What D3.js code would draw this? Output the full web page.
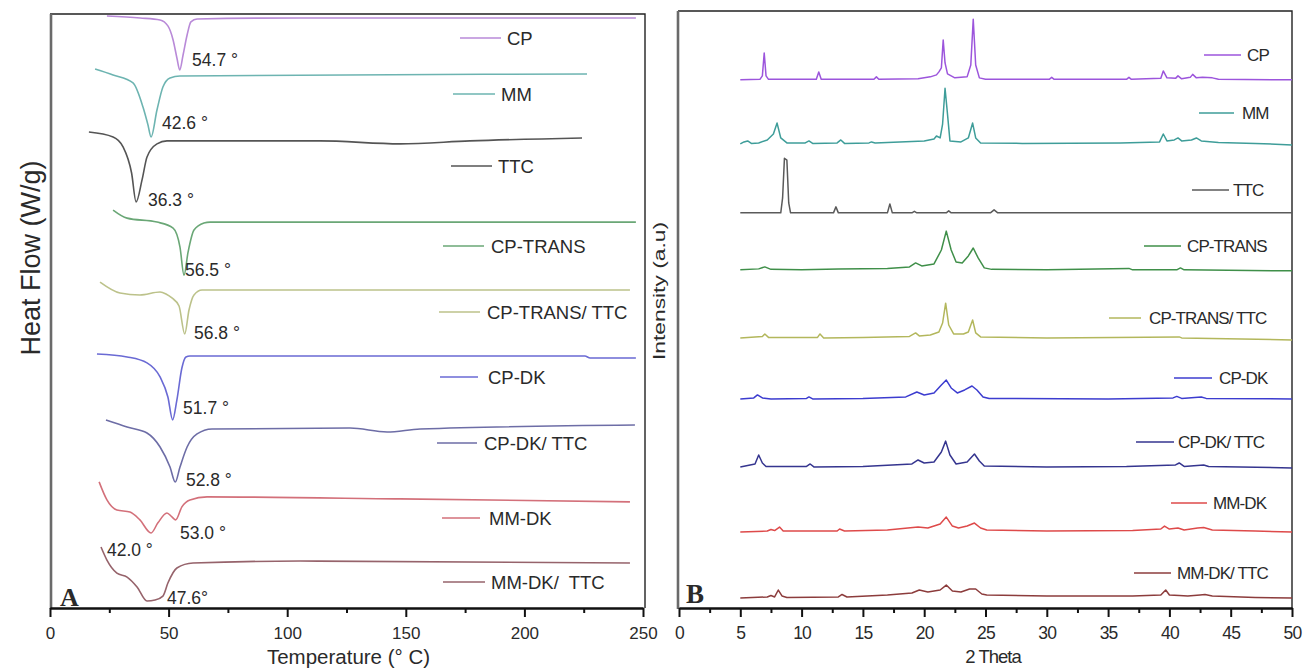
<!DOCTYPE html>
<html>
<head>
<meta charset="utf-8">
<script src="https://cdn.jsdelivr.net/npm/d3@7"></script>
<style>
  body { margin: 0; background: #fff; }
  svg { display: block; font-family: "Liberation Sans", Arial, sans-serif; }
  text { white-space: pre; fill: #2a2a2a; }
</style>
</head>
<body>
<svg id="chart" width="1304" height="669"></svg>
<script>
// ---------- data ----------
// panel A (DSC) sample names, stacked offsets (W/g) and curves [T (°C), heat flow relative to baseline]
const dscNames = ["CP", "MM", "TTC", "CP-TRANS", "CP-TRANS/ TTC", "CP-DK", "CP-DK/ TTC", "MM-DK", "MM-DK/  TTC"];
const dscOffsets = [29.80, 26.87, 23.59, 19.49, 16.06, 12.73, 9.09, 5.56, 2.32];

const dscCP = [[24,0.10],[38,0],[46.4,-0.10],[49.7,-0.40],[51.9,-1.11],[53.5,-2.02],[54.7,-2.63],[56.1,-1.87],[57.8,-0.86],[59.4,-0.20],[62,-0.05],[105,0],[247,0]];
const dscMM = [[19.0,0.35],[26.6,0.05],[35.0,-0.35],[39.2,-1.57],[41.3,-2.47],[42.6,-3.08],[45.1,-1.72],[47.6,-0.56],[50.6,-0.10],[54.8,0],[226.4,0.10]];
const dscTTC = [[16.4,0.45],[26.6,0.20],[30.8,-0.30],[34.4,-1.62],[36.3,-3.08],[38.8,-1.97],[40.9,-0.81],[45.1,-0.15],[49.3,0],[113.8,0],[147.6,-0.15],[177,0],[224.3,0.15]];
const dscCPTrans = [[26.6,0.61],[32.5,0.20],[45.1,0],[51.9,-0.30],[54.8,-1.26],[56.5,-2.68],[58.2,-1.52],[60.7,-0.40],[64.9,-0.05],[67.5,0],[247,0]];
const dscCPTransTTC = [[21.1,0.40],[29.5,-0.15],[37.9,-0.25],[46.4,-0.10],[48.9,-0.20],[51.4,-0.40],[54.4,-0.81],[56.8,-2.22],[58.6,-1.01],[60.7,-0.25],[64.1,0],[244.5,0]];
const dscCPDK = [[19.8,0.10],[32.5,-0.05],[40.9,-0.35],[46.4,-1.06],[49.7,-2.07],[51.7,-3.23],[53.5,-2.22],[55.6,-0.61],[57.3,-0.05],[59,0],[225.5,0],[227.7,-0.10],[247,-0.10]];
const dscCPDKTTC = [[23.6,0.40],[32.5,0.05],[40.9,-0.25],[46.4,-0.96],[50.6,-1.97],[52.8,-2.73],[54.8,-1.97],[57.8,-0.96],[62,-0.30],[68.3,-0.05],[126.5,0],[142.1,-0.20],[156,-0.05],[246.6,0.15]];
const dscMMDK = [[20.7,0.81],[24.0,-0.10],[28.2,-0.61],[33.7,-0.71],[37.9,-1.11],[42.6,-1.77],[45.5,-1.26],[49.3,-0.76],[51.4,-0.96],[53.0,-1.11],[55.6,-0.45],[59.0,-0.10],[66.2,0.05],[147.6,-0.05],[244.5,-0.20]];
const dscMMDKTTC = [[21.5,0.76],[24.0,0.10],[28.2,-0.56],[32.5,-0.76],[36.7,-1.26],[40.9,-1.97],[44.3,-1.92],[47.6,-1.72],[49.7,-1.06],[53.5,-0.30],[60.3,-0.05],[105.4,0.05],[244.5,-0.05]];
const dscCurves = [dscCP, dscMM, dscTTC, dscCPTrans, dscCPTransTTC, dscCPDK, dscCPDKTTC, dscMMDK, dscMMDKTTC];

// peak temperature labels: [text, T, heat flow] where the label sits
const peakLabels = [
  ["54.7 °", 59.9, 27.68], ["42.6 °", 47.2, 24.49], ["36.3 °", 41.3, 20.61],
  ["56.5 °", 56.9, 17.07], ["56.8 °", 60.7, 13.89], ["51.7 °", 56.1, 10.10],
  ["52.8 °", 57.3, 6.46], ["53.0 °", 54.8, 3.79], ["42.0 °", 24.0, 2.93], ["47.6°", 49.3, 0.51]
];
const tempTicks = [0, 50, 100, 150, 200, 250];
const tempMinor = [25, 75, 125, 175, 225];

// panel B (XRD) names, stacked offsets (a.u.) and patterns [2θ, intensity above baseline]
const xrdNames = ["CP", "MM", "TTC", "CP-TRANS", "CP-TRANS/ TTC", "CP-DK", "CP-DK/ TTC", "MM-DK", "MM-DK/ TTC"];
const xrdOffsets = [5317, 4672, 3978, 3404, 2719, 2105, 1420, 765, 101];

const xrdCP = [[5,0],[6.6,5],[6.8,40],[6.95,270],[7.1,40],[7.3,5],[11.2,5],[11.4,80],[11.6,5],[15.9,5],[16.1,30],[16.3,5],[19.5,10],[20.5,30],[21.0,50],[21.2,80],[21.4,120],[21.55,400],[21.7,170],[21.9,60],[22.5,20],[23.5,30],[23.8,150],[24.0,610],[24.2,150],[24.5,20],[25,5],[30.2,5],[30.4,25],[30.6,5],[36.5,5],[36.7,25],[36.9,5],[39.3,15],[39.5,90],[39.8,20],[40.5,15],[40.7,40],[41.0,10],[41.7,25],[41.9,55],[42.2,20],[42.7,25],[43.5,20],[44,5],[50,0]];
const xrdMM = [[5,0],[5.3,20],[5.6,30],[5.9,5],[6.5,10],[7.2,40],[7.7,100],[8.0,210],[8.3,60],[8.8,10],[10.3,10],[10.6,30],[10.9,5],[12.9,10],[13.2,40],[13.5,5],[15.5,10],[15.7,20],[16,10],[18,20],[20,30],[20.8,50],[21.0,80],[21.3,60],[21.5,200],[21.7,560],[21.9,300],[22.1,30],[23,20],[23.6,60],[23.95,210],[24.2,60],[24.6,10],[28,5],[36,10],[39.2,20],[39.5,100],[39.8,30],[40.4,40],[40.7,60],[41.0,30],[41.8,40],[42.2,60],[42.6,30],[44,15],[47,5],[50,-10]];
const xrdTTC = [[5,0],[8.3,0],[8.45,150],[8.6,550],[8.8,530],[8.95,100],[9.1,0],[12.6,0],[12.8,60],[13.0,0],[17.0,0],[17.2,90],[17.4,0],[19.0,0],[19.2,15],[19.4,0],[21.8,0],[22.0,20],[22.2,0],[25.4,0],[25.7,30],[26.0,0],[50,0]];
const xrdCPTrans = [[5,0],[6.5,10],[7.0,30],[7.5,5],[10,0],[13,10],[17,15],[18.8,30],[19.3,70],[19.8,40],[20.8,60],[21.4,200],[21.8,390],[22.2,200],[22.6,80],[23.1,70],[23.6,140],[24.0,220],[24.4,120],[24.9,20],[25.5,5],[30,0],[36.7,15],[37,0],[40.6,0],[40.9,20],[41.2,0],[50,-10]];
const xrdCPTransTTC = [[5,0],[6.8,15],[7.0,40],[7.3,5],[11.3,5],[11.5,40],[11.8,0],[15,5],[18.8,15],[19.3,50],[19.6,20],[20.5,30],[21.2,60],[21.5,150],[21.75,350],[22.0,130],[22.4,40],[23.2,40],[23.6,60],[23.95,180],[24.2,50],[24.6,10],[30,0],[40.8,10],[41,0],[50,-20]];
const xrdCPDK = [[5,0],[6.1,10],[6.4,40],[6.8,10],[7.5,0],[10.4,5],[10.6,20],[10.9,0],[15,5],[18.5,20],[19.4,70],[20,40],[20.8,60],[21.4,140],[21.8,190],[22.2,110],[22.7,60],[23.3,90],[23.9,130],[24.3,90],[24.8,20],[25.3,5],[35,0],[40.3,10],[40.6,25],[41,5],[42.6,20],[43,5],[50,0]];
const xrdCPDKTTC = [[5,0],[6.2,30],[6.5,120],[6.8,40],[7.1,5],[10.4,5],[10.7,30],[11,0],[15,5],[19,30],[19.5,70],[20,40],[20.8,50],[21.4,150],[21.75,260],[22.1,120],[22.6,30],[23.5,50],[24.1,130],[24.5,60],[24.9,10],[30,0],[36.5,5],[40.5,20],[40.8,40],[41.2,5],[42.8,20],[43.2,5],[50,-10]];
const xrdMMDK = [[5,0],[7.2,10],[7.5,25],[7.8,15],[8.2,50],[8.5,10],[12.9,10],[13.1,30],[13.5,10],[17,20],[19.5,50],[20.3,40],[21.3,80],[21.8,150],[22.3,60],[22.8,40],[23.5,60],[24.1,90],[24.6,40],[25.1,20],[30,10],[37,15],[39.3,30],[39.6,60],[40,30],[40.7,40],[41.2,20],[42.3,40],[42.8,45],[43.5,20],[47,10],[50,0]];
const xrdMMDKTTC = [[5,0],[7.2,10],[7.5,25],[7.8,10],[8.1,80],[8.4,20],[8.8,5],[13,10],[13.3,35],[13.7,10],[17,30],[19,50],[19.6,80],[20.3,60],[21.3,80],[21.8,130],[22.3,70],[23,60],[23.7,90],[24.2,90],[24.7,40],[25.1,30],[30,20],[37,20],[39.3,30],[39.7,80],[40,30],[40.8,25],[41.5,20],[42.5,30],[42.9,35],[43.5,20],[47,5],[50,0]];
const xrdCurves = [xrdCP, xrdMM, xrdTTC, xrdCPTrans, xrdCPTransTTC, xrdCPDK, xrdCPDKTTC, xrdMMDK, xrdMMDKTTC];

const thetaTicks = [0, 5, 10, 15, 20, 25, 30, 35, 40, 45, 50];
const thetaMinor = [2.5, 7.5, 12.5, 17.5, 22.5, 27.5, 32.5, 37.5, 42.5, 47.5];

// ---------- styles / layout ----------
const dscColors = ["#b98ad8", "#6db4b1", "#555555", "#6aa776", "#bcc28a", "#6a6ad4", "#6d6da6", "#d3707a", "#96636b"];
const xrdColors = ["#9c55dc", "#3e9d99", "#5a5a5a", "#3f8f49", "#b3b75c", "#3c3ccf", "#35358f", "#de4a4a", "#8c3c3c"];
// legend [line x1, line x2, y, text x]
const dscLegend = [[460,501,38,507],[453,495,94,501],[451,492,166,498],[443,484,246,491],[439,480,312,487],[440,478,377,488],[437,477,443,484],[442,480,518,489],[443,485,582,491]];
const xrdLegend = [[1204,1241,55,1247],[1199,1234,113,1242],[1192,1229,190,1233],[1144,1181,246,1187],[1109,1141,318,1149],[1174,1212,378,1219],[1136,1174,442,1178],[1171,1207,503,1213],[1134,1171,573,1177]];

const svg = d3.select("#chart");

// scales
const xL = d3.scaleLinear().domain([0, 250]).range([50, 643]);
const yL = d3.scaleLinear().domain([0, 30]).range([608, 14]);
const xR = d3.scaleLinear().domain([0, 50]).range([679, 1292]);
const yR = d3.scaleLinear().domain([0, 6000]).range([608, 12]);

// ---------- panel A ----------
const gA = svg.append("g");

// frame: thin black top/right, gray left
gA.append("path").attr("d", `M${xL(0)},14H${xL(250) + 2}V608`)
  .attr("fill", "none").attr("stroke", "#222").attr("stroke-width", 1.4);
gA.append("line").attr("x1", xL(0) + 1).attr("x2", xL(0) + 1).attr("y1", 14).attr("y2", 609)
  .attr("stroke", "#6a6a6a").attr("stroke-width", 2.6);

const lineL = d3.line().x(d => xL(d[0])).y(d => yL(d[1])).curve(d3.curveMonotoneX);
dscCurves.forEach((c, i) => {
  gA.append("path")
    .datum(c.map(p => [p[0], p[1] + dscOffsets[i]]))
    .attr("d", lineL)
    .attr("fill", "none")
    .attr("stroke", dscColors[i])
    .attr("stroke-width", 1.6);
});

// peak labels
gA.selectAll(".peak").data(peakLabels).join("text")
  .attr("class", "peak")
  .attr("x", d => xL(d[1]))
  .attr("y", d => yL(d[2]))
  .attr("dy", "0.36em")
  .attr("font-size", 17.5)
  .text(d => d[0]);

// legend
dscLegend.forEach((l, i) => {
  gA.append("line").attr("x1", l[0]).attr("x2", l[1]).attr("y1", l[2]).attr("y2", l[2])
    .attr("stroke", dscColors[i]).attr("stroke-width", 1.6);
  gA.append("text").attr("x", l[3]).attr("y", l[2]).attr("dy", "0.36em")
    .attr("font-size", 18.5).text(dscNames[i]);
});

// x axis
const axA = gA.append("g").attr("transform", "translate(0,608)");
axA.append("g").call(d3.axisBottom(xL).tickValues(tempMinor).tickSize(5).tickSizeOuter(0).tickFormat(""));
axA.append("g").call(d3.axisBottom(xL).tickValues(tempTicks).tickSize(9).tickSizeOuter(0).tickPadding(10));
axA.selectAll(".domain").attr("stroke", "#111").attr("stroke-width", 2);
axA.selectAll(".tick line").attr("stroke", "#111").attr("stroke-width", 2);
axA.selectAll(".tick text").attr("font-size", 17).attr("font-family", "Liberation Sans, Arial, sans-serif").attr("fill", "#333");

gA.append("text").attr("x", (xL(0) + xL(250)) / 2 + 2).attr("y", 664)
  .attr("text-anchor", "middle").attr("font-size", 20.5).text("Temperature (° C)");
gA.append("text").attr("transform", "translate(40,258) rotate(-90)")
  .attr("text-anchor", "middle").attr("font-size", 27).attr("fill", "#333").text("Heat Flow (W/g)");
gA.append("text").attr("x", 60).attr("y", 606)
  .attr("font-family", "Liberation Serif, Times New Roman, serif").attr("font-weight", "bold")
  .attr("font-size", 26).attr("fill", "#000").text("A");

// ---------- panel B ----------
const gB = svg.append("g");
gB.append("path").attr("d", `M${xR(0) - 1},11H${xR(50)}V608`)
  .attr("fill", "none").attr("stroke", "#222").attr("stroke-width", 1.4);
gB.append("line").attr("x1", xR(0) - 1).attr("x2", xR(0) - 1).attr("y1", 11).attr("y2", 609)
  .attr("stroke", "#6a6a6a").attr("stroke-width", 2.6);

const lineR = d3.line().x(d => xR(d[0])).y(d => yR(d[1]));
xrdCurves.forEach((c, i) => {
  gB.append("path")
    .datum(c.map(p => [p[0], p[1] + xrdOffsets[i]]))
    .attr("d", lineR)
    .attr("fill", "none")
    .attr("stroke", xrdColors[i])
    .attr("stroke-width", 1.5)
    .attr("stroke-linejoin", "round");
});

xrdLegend.forEach((l, i) => {
  gB.append("line").attr("x1", l[0]).attr("x2", l[1]).attr("y1", l[2]).attr("y2", l[2])
    .attr("stroke", xrdColors[i]).attr("stroke-width", 1.5);
  gB.append("text").attr("x", l[3]).attr("y", l[2]).attr("dy", "0.36em")
    .attr("font-size", 17).attr("letter-spacing", -0.9).text(xrdNames[i]);
});

const axB = gB.append("g").attr("transform", "translate(0,608)");
axB.append("g").call(d3.axisBottom(xR).tickValues(thetaMinor).tickSize(5).tickSizeOuter(0).tickFormat(""));
axB.append("g").call(d3.axisBottom(xR).tickValues(thetaTicks).tickSize(9).tickSizeOuter(0).tickPadding(10));
axB.selectAll(".domain").attr("stroke", "#111").attr("stroke-width", 2);
axB.selectAll(".tick line").attr("stroke", "#111").attr("stroke-width", 2);
axB.selectAll(".tick text").attr("font-size", 17.5).attr("letter-spacing", -0.8)
  .attr("font-family", "Liberation Sans, Arial, sans-serif").attr("fill", "#333");

gB.append("text").attr("x", 993).attr("y", 663)
  .attr("text-anchor", "middle").attr("font-size", 18.5).attr("letter-spacing", -1).text("2 Theta");
gB.append("text").attr("transform", "translate(665,291) rotate(-90)")
  .attr("text-anchor", "middle").attr("font-size", 16.5).attr("textLength", 138)
  .attr("lengthAdjust", "spacingAndGlyphs").text("Intensity (a.u)");
gB.append("text").attr("x", 686).attr("y", 603)
  .attr("font-family", "Liberation Serif, Times New Roman, serif").attr("font-weight", "bold")
  .attr("font-size", 27).attr("fill", "#000").text("B");
</script>
</body>
</html>
